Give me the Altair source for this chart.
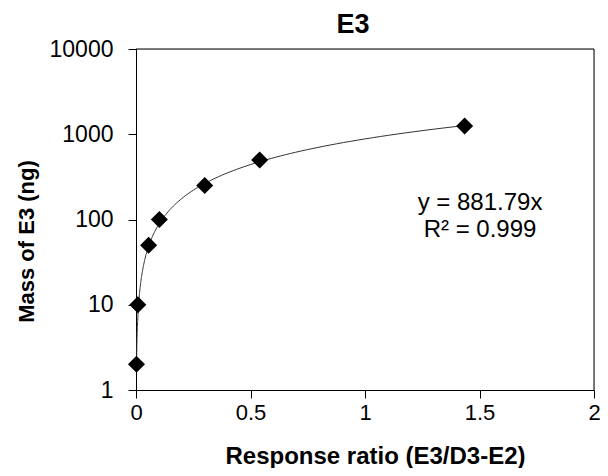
import altair as alt
import pandas as pd

# Data
ratio = [0.002, 0.008, 0.055, 0.102, 0.30, 0.54, 1.435]
mass = [2, 10, 50, 100, 250, 500, 1250]
slope = 881.79
equation_lines = "y = 881.79x\nR² = 0.999"
x_ticks = [0, 0.5, 1, 1.5, 2]
y_ticks = [1, 10, 100, 1000, 10000]

df = pd.DataFrame({"ratio": ratio, "mass": mass})
FONT = "Liberation Sans"
W, H = 458, 341

x_scale = alt.Scale(domain=[0, 2], nice=False, zero=False)
y_scale = alt.Scale(type="log", domain=[1, 10000], nice=False)

x_axis = alt.Axis(
    title="Response ratio (E3/D3-E2)", values=x_ticks, format="~g",
    grid=False, labelFontSize=22, labelFont=FONT, labelColor="#000",
    labelFlush=False, labelOverlap=False,
    tickSize=8, tickColor="#000", domainColor="#000", labelPadding=4,
    titleFont=FONT, titleFontSize=24, titleFontWeight="bold", titleColor="#000",
    titleX=239, titleY=73, titleBaseline="alphabetic", titleAlign="center",
)
y_axis = alt.Axis(
    title="Mass of E3 (ng)", values=y_ticks, format="d",
    grid=False, labelFontSize=23, labelFont=FONT, labelColor="#000",
    labelFlush=False, labelOverlap=False,
    tickSize=8, tickColor="#000", domainColor="#000", labelPadding=15,
    titleFont=FONT, titleFontSize=22, titleFontWeight="bold", titleColor="#000",
    titleX=-103, titleY=192, titleBaseline="alphabetic", titleAlign="center",
    titleAngle=-90,
)

x_min, x_max = min(ratio), max(ratio)

top_border = (
    alt.Chart(pd.DataFrame({"k": [0]}))
    .mark_rule(color="#000", strokeWidth=1)
    .encode(x=alt.value(0), x2=alt.value(W), y=alt.value(0))
)
right_border = (
    alt.Chart(pd.DataFrame({"k": [0]}))
    .mark_rule(color="#000", strokeWidth=1)
    .encode(x=alt.value(W), y=alt.value(0), y2=alt.value(H))
)

trend = (
    alt.Chart(alt.sequence(0, 1.0001, 0.005, as_="t"))
    .transform_calculate(
        ratio=f"{x_min} * pow({x_max}/{x_min}, datum.t)",
    )
    .transform_calculate(mass=f"{slope} * datum.ratio")
    .mark_line(color="#333333", strokeWidth=1, clip=True)
    .encode(
        x=alt.X("ratio:Q", scale=x_scale, axis=x_axis),
        y=alt.Y("mass:Q", scale=y_scale, axis=y_axis),
        order="t:Q",
    )
)

points = (
    alt.Chart(df)
    .mark_point(shape="diamond", filled=True, color="#000", size=290, opacity=1)
    .encode(
        x=alt.X("ratio:Q", scale=x_scale, axis=x_axis),
        y=alt.Y("mass:Q", scale=y_scale, axis=y_axis),
    )
)

eq = (
    alt.Chart(pd.DataFrame({"label": [equation_lines]}))
    .mark_text(font=FONT, fontSize=24, color="#000", align="center",
               baseline="alphabetic", lineBreak="\n", lineHeight=27)
    .encode(x=alt.value(344), y=alt.value(161), text="label:N")
)

chart = (
    alt.layer(top_border, right_border, trend, points, eq)
    .properties(
        width=W, height=H,
        autosize=alt.AutoSizeParams(type="none"),
        padding={"left": 128, "top": 41, "right": 6, "bottom": 78},
        title=alt.TitleParams(
            "E3", font=FONT, fontSize=27, fontWeight="bold", color="#000",
            anchor="middle", frame="group", dx=-12,
            baseline="alphabetic", offset=-22,
        ),
    )
    .configure_view(stroke=None)
    .configure(background="white")
)

chart.save("out.html", embed_options={"renderer": "svg", "actions": False})
